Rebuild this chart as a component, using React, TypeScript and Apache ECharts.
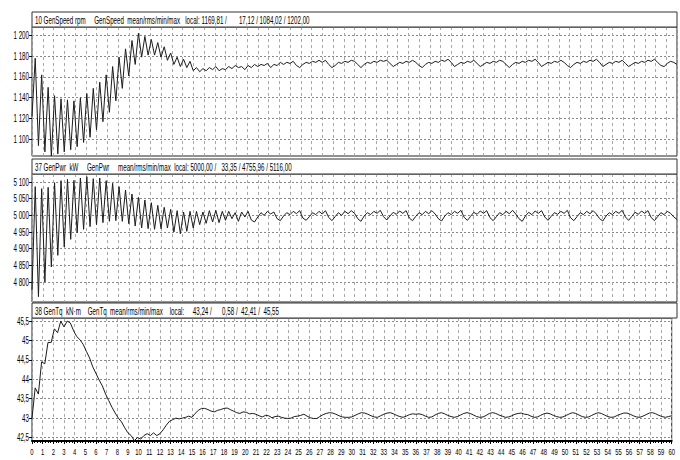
import React, { useEffect, useRef } from "react";
import * as echarts from "echarts";

// sampling step of the value arrays below (seconds)
const DT = 0.3;

// 10 GenSpeed [rpm]
const genSpeed = [
  1122, 1178, 1094, 1162, 1088, 1150, 1084, 1142, 1086, 1139,
  1088, 1138, 1090, 1137, 1093, 1140, 1097, 1144, 1102, 1149,
  1109, 1155, 1117, 1162, 1126, 1170, 1137, 1179, 1149, 1187,
  1161, 1195, 1172, 1202, 1179, 1199, 1181, 1196, 1181, 1193,
  1179, 1189, 1176, 1183, 1172, 1179, 1170, 1177, 1169, 1175,
  1166, 1169, 1165, 1168, 1166, 1169, 1167, 1170, 1166, 1168,
  1167, 1170, 1168, 1171, 1169, 1170, 1167, 1171, 1169, 1172,
  1170, 1172, 1171, 1173, 1169, 1172, 1171, 1174, 1172, 1174,
  1173, 1175, 1171, 1169, 1172, 1174, 1173, 1175, 1174, 1176,
  1174, 1176, 1172, 1169, 1171, 1174, 1173, 1175, 1174, 1176,
  1175, 1172, 1169, 1172, 1174, 1173, 1175, 1174, 1176, 1175,
  1176, 1173, 1170, 1172, 1174, 1173, 1175, 1174, 1176, 1174,
  1171, 1169, 1172, 1174, 1173, 1175, 1174, 1176, 1175, 1177,
  1174, 1170, 1172, 1174, 1173, 1175, 1174, 1176, 1173, 1170,
  1172, 1174, 1173, 1175, 1174, 1176, 1175, 1172, 1169, 1172,
  1174, 1173, 1175, 1174, 1176, 1175, 1177, 1174, 1170, 1172,
  1174, 1173, 1175, 1174, 1176, 1174, 1171, 1169, 1172, 1174,
  1173, 1175, 1174, 1176, 1175, 1177, 1174, 1170, 1172, 1174,
  1173, 1175, 1174, 1176, 1173, 1170, 1172, 1174, 1173, 1175,
  1174, 1176, 1175, 1177, 1174, 1171, 1170, 1173, 1175, 1174,
  1172,
];

// 37 GenPwr [kW]
const genPwr = [
  4776, 5086, 4756, 5080, 4800, 5084, 4845, 5098, 4880, 5104,
  4905, 5108, 4928, 5105, 4948, 5112, 4958, 5116, 4966, 5110,
  4972, 5112, 4978, 5104, 4982, 5096, 4984, 5086, 4982, 5076,
  4975, 5064, 4968, 5054, 4962, 5046, 4960, 5038, 4958, 5030,
  4960, 5024, 4962, 5018, 4950, 5014, 4945, 5010, 4952, 5012,
  4962, 5012, 4972, 5010, 4976, 5014, 4980, 5015, 4978, 5012,
  4985, 5012, 4990, 5008, 4982, 5010, 4995, 5012, 4986, 4980,
  4995, 5008, 5000, 5012, 5004, 5010, 4990, 4984, 4998, 5008,
  5002, 5012, 5005, 5014, 4992, 4985, 4996, 5008, 5002, 5012,
  5004, 5014, 4994, 4984, 4996, 5008, 5000, 5012, 5005, 5014,
  5006, 4990, 4982, 4998, 5008, 5002, 5012, 5006, 5015, 4996,
  4986, 4998, 5009, 5003, 5013, 5006, 5014, 4992, 4984, 4997,
  5008, 5002, 5012, 5005, 5014, 5004, 4990, 4983, 4998, 5008,
  5002, 5012, 5006, 5015, 4994, 4985, 4997, 5009, 5003, 5013,
  5006, 5014, 4993, 4984, 4996, 5008, 5002, 5012, 5005, 5015,
  5004, 4990, 4982, 4998, 5009, 5002, 5013, 5006, 5014, 4995,
  4985, 4997, 5008, 5003, 5012, 5006, 5015, 4993, 4984, 4996,
  5008, 5002, 5012, 5005, 5014, 5004, 4990, 4983, 4998, 5008,
  5002, 5012, 5006, 5015, 4995, 4985, 4997, 5009, 5003, 5013,
  5006, 5014, 4993, 4984, 4996, 5008, 5002, 5012, 5006, 4995,
  4988,
];

// 38 GenTq [kN·m]
const genTq = [
  43.0, 43.78, 43.62, 44.45, 44.4, 44.95, 44.95, 45.3, 45.2, 45.5,
  45.35, 45.5, 45.45, 45.25, 45.1, 45.02, 44.9, 44.72, 44.55, 44.32,
  44.15, 43.98, 43.83, 43.62, 43.45, 43.28, 43.13, 43.0, 42.9, 42.75,
  42.62, 42.55, 42.42, 42.5, 42.46, 42.55, 42.6, 42.55, 42.62, 42.55,
  42.6, 42.7, 42.82, 42.92, 42.96, 43.0, 42.98, 43.0, 43.02, 43.05,
  43.02, 43.12, 43.2, 43.25, 43.25, 43.22, 43.18, 43.16, 43.2, 43.22,
  43.25, 43.26, 43.22, 43.18, 43.14, 43.12, 43.16, 43.15, 43.11, 43.12,
  43.1, 43.06, 43.03, 43.07, 43.06, 43.01, 43.04, 43.05, 43.02, 43.0,
  42.99, 43.0, 43.04, 43.05, 43.07, 43.1, 43.05, 43.01, 42.99, 42.99,
  43.04, 43.09, 43.12, 43.14, 43.13, 43.1, 43.06, 43.03, 43.02, 43.02,
  43.03, 43.07, 43.11, 43.14, 43.13, 43.1, 43.06, 43.03, 43.02, 43.06,
  43.1, 43.13, 43.14, 43.11, 43.07, 43.04, 43.02, 43.05, 43.09, 43.11,
  43.1, 43.11, 43.09, 43.05, 43.02, 43.03, 43.08, 43.12, 43.14, 43.11,
  43.07, 43.04, 43.02, 43.04, 43.08, 43.12, 43.14, 43.12, 43.08, 43.04,
  43.02, 43.03, 43.07, 43.12, 43.14, 43.12, 43.08, 43.05, 43.02, 43.03,
  43.06, 43.1, 43.12, 43.13, 43.1, 43.09, 43.05, 43.02, 43.03, 43.07,
  43.11, 43.13, 43.11, 43.07, 43.04, 43.02, 43.03, 43.07, 43.11, 43.14,
  43.12, 43.08, 43.04, 43.02, 43.03, 43.07, 43.11, 43.14, 43.12, 43.08,
  43.04, 43.02, 43.03, 43.07, 43.1, 43.13, 43.13, 43.1, 43.06, 43.03,
  43.02, 43.05, 43.09, 43.13, 43.14, 43.11, 43.07, 43.04, 43.02, 43.04,
  43.06,
];

// y tick labels
const speedTicks = [1100, 1120, 1140, 1160, 1180, 1200];
const pwrTicks = [4800, 4850, 4900, 4950, 5000, 5050, 5100];
const tqTicks = [42.5, 43, 43.5, 44, 44.5, 45, 45.5];

// header texts (channel, unit, name, stats caption, local values)
const header1 = ["10 GenSpeed rpm", "GenSpeed", "mean/rms/min/max", "local: 1169,81 /", "17,12 / 1084,02 / 1202,00"];
const header2 = ["37 GenPwr", "kW", "GenPwr", "mean/rms/min/max", "local: 5000,00 /", "33,35 / 4755,96 / 5116,00"];
const header3 = ["38 GenTq", "kN·m", "GenTq", "mean/rms/min/max", "local:", "43,24 /", "0,58 /", "42,41 /", "45,55"];

const FONT = "'Liberation Sans', Arial, sans-serif";
const SQUEEZE = 0.62;

const toPairs = (arr: number[]) => arr.map((v, i) => [Math.round(i * DT * 1000) / 1000, v]);
const fmtThousands = (v: number) => {
  const s = String(Math.round(v));
  return s.length > 3 ? s.slice(0, s.length - 3) + "\u00a0" + s.slice(-3) : s;
};
const fmtComma = (v: number) => String(v).replace(".", ",");

export default function App() {
  const ref = useRef<HTMLDivElement>(null);
  useEffect(() => {
    if (!ref.current) return;
    const chart = echarts.init(ref.current, undefined, { renderer: "svg" });

    const L = 32;
    const R = 3;
    const W = 680 - L - R;
    const grids = [
      { top: 27, height: 129 },
      { top: 174, height: 128 },
      { top: 318, height: 123 },
    ];
    const headerTops = [12, 159, 303];
    // number of (non-collapsing) spaces between header segments
    const headerGaps = [
      [5, 2, 3, 7],
      [2, 5, 5, 2, 3],
      [2, 4, 2, 4, 5, 6, 2, 2],
    ];
    const headers = [header1, header2, header3];
    const joinHeader = (segs: string[], gaps: number[]) =>
      segs.map((s, k) => (k < gaps.length ? s + "\u00a0".repeat(gaps[k]) : s)).join("");

    const xAxisBase = (i: number) => ({
      gridIndex: i,
      type: "value",
      min: 0,
      max: 60,
      interval: 1,
      axisLine: i === 2
        ? { show: true, onZero: false, lineStyle: { color: "#000", width: 2 } }
        : { show: false },
      axisTick: i === 2 ? { show: true, length: 3, lineStyle: { color: "#000" } } : { show: false },
      minorTick: i === 2 ? { show: true, splitNumber: 4, length: 2, lineStyle: { color: "#000" } } : { show: false },
      axisLabel: i === 2
        ? {
            show: true,
            fontSize: 9.5,
            fontFamily: FONT,
            color: "#000",
            margin: 5,
            showMinLabel: true,
            showMaxLabel: true,
            hideOverlap: false,
          }
        : { show: false },
      splitLine: { show: true, lineStyle: { color: "#a8a8a8", type: [3, 3], width: 1 } },
    });

    const yAxisBase = (i: number, min: number, max: number, ticks: number[], fmt: (v: number) => string) => ({
      gridIndex: i,
      type: "value",
      min,
      max,
      axisLine: { show: false },
      axisTick: { show: true, length: 3, customValues: ticks, lineStyle: { color: "#000" } },
      axisLabel: { show: true, fontSize: 10, fontFamily: FONT, color: "#000", margin: 3, customValues: ticks, formatter: fmt },
      splitLine: { show: true, lineStyle: { color: "#888", type: [2, 2], width: 1 } },
    });

    const graphic: any[] = [];
    headers.forEach((h, gi) => {
      graphic.push({
        type: "rect",
        shape: { x: L, y: headerTops[gi], width: W, height: 15 },
        style: { fill: "#fff", stroke: "#333", lineWidth: 1 },
        z: 10,
      });
      graphic.push({
        type: "text",
        x: 35,
        y: headerTops[gi] + 8,
        style: {
          text: joinHeader(h, headerGaps[gi]),
          fill: "#000",
          font: `10px ${FONT}`,
          textVerticalAlign: "middle",
          verticalAlign: "middle",
        },
        z: 11,
      });
    });

    const lineSeries = (i: number, data: number[]) => ({
      type: "line",
      xAxisIndex: i,
      yAxisIndex: i,
      data: toPairs(data),
      showSymbol: false,
      symbol: "none",
      lineStyle: { color: "#1c1c1c", width: 1 },
      clip: true,
    });

    chart.setOption({
      animation: false,
      backgroundColor: "#fff",
      grid: grids.map((g) => ({
        left: L,
        right: R,
        top: g.top,
        height: g.height,
        show: true,
        borderColor: "#222",
        borderWidth: 1,
        backgroundColor: "#fff",
      })),
      xAxis: [xAxisBase(0), xAxisBase(1), xAxisBase(2)],
      yAxis: [
        yAxisBase(0, 1084, 1208, speedTicks, fmtThousands),
        yAxisBase(1, 4740, 5124, pwrTicks, fmtThousands),
        yAxisBase(2, 42.41, 45.58, tqTicks, fmtComma),
      ],
      series: [lineSeries(0, genSpeed), lineSeries(1, genPwr), lineSeries(2, genTq)],
      graphic,
    });

    // the reference uses a very narrow typeface: compress the rendered glyphs
    const condense = () => {
      const root = ref.current;
      if (!root) return;
      root.querySelectorAll("text").forEach((t: any) => {
        if (t.getAttribute("data-cond")) return;
        const len = t.getComputedTextLength ? t.getComputedTextLength() : 0;
        if (len > 0) {
          t.setAttribute("textLength", String(len * SQUEEZE));
          t.setAttribute("lengthAdjust", "spacingAndGlyphs");
          t.setAttribute("data-cond", "1");
        }
      });
    };
    condense();
    chart.on("finished", condense);

    return () => chart.dispose();
  }, []);

  return (
    <div
      ref={ref}
      style={{ position: "fixed", left: 0, top: 0, width: 680, height: 460, background: "#fff" }}
    />
  );
}
